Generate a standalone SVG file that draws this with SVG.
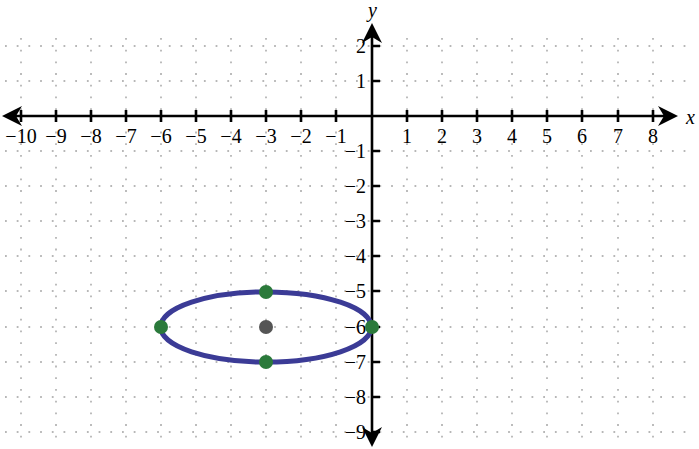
<svg xmlns="http://www.w3.org/2000/svg" width="699" height="449" viewBox="0 0 699 449">
<style>
.g{stroke:#a0a0a0;stroke-width:1.4;stroke-dasharray:1.8 9.9;fill:none}
.ax{stroke:#000;stroke-width:2.6;fill:none}
.tk{stroke:#000;stroke-width:2.6}
text{font-family:"Liberation Serif",serif;font-size:20px;fill:#000}
.xl{text-anchor:middle}
.yl{text-anchor:end}
.pt{fill:#2b7a3b}
</style>
<rect width="699" height="449" fill="#fff"/>
<g id="grid">
<path class="g" d="M21 38V446M56 38V446M91 38V446M126 38V446M161 38V446M196 38V446M231 38V446M266 38V446M301 38V446M336 38V446M407 38V446M442 38V446M477 38V446M512 38V446M547 38V446M582 38V446M618 38V446M653 38V446"/>
<path class="g" d="M5 46H690M5 81H690M5 151H690M5 186H690M5 221H690M5 256H690M5 291H690M5 327H690M5 362H690M5 397H690M5 432H690"/>
</g>
<g id="connectors">
<path class="ax" d="M8 116H670"/>
<path class="ax" d="M372 30V440"/>
<path d="M2 116L22 106L16 116L22 126Z"/>
<path d="M678 116L658 106L664 116L658 126Z"/>
<path d="M372 23L362 43L372 37L382 43Z"/>
<path d="M372 447L362 427L372 433L382 427Z"/>
<path class="tk" d="M21 110V122M56 110V122M91 110V122M126 110V122M161 110V122M196 110V122M231 110V122M266 110V122M301 110V122M336 110V122M407 110V122M442 110V122M477 110V122M512 110V122M547 110V122M582 110V122M618 110V122M653 110V122"/>
<path class="tk" d="M372 46H380M372 81H380M372 151H380M372 186H380M372 221H380M372 256H380M372 291H380M372 327H380M372 362H380M372 397H380M372 432H380"/>
</g>
<g id="xlabels">
<text class="xl" x="21" y="143">−10</text>
<text class="xl" x="56" y="143">−9</text>
<text class="xl" x="91" y="143">−8</text>
<text class="xl" x="126" y="143">−7</text>
<text class="xl" x="161" y="143">−6</text>
<text class="xl" x="196" y="143">−5</text>
<text class="xl" x="231" y="143">−4</text>
<text class="xl" x="266" y="143">−3</text>
<text class="xl" x="301" y="143">−2</text>
<text class="xl" x="336" y="143">−1</text>
<text class="xl" x="407" y="143">1</text>
<text class="xl" x="442" y="143">2</text>
<text class="xl" x="477" y="143">3</text>
<text class="xl" x="512" y="143">4</text>
<text class="xl" x="547" y="143">5</text>
<text class="xl" x="582" y="143">6</text>
<text class="xl" x="618" y="143">7</text>
<text class="xl" x="653" y="143">8</text>
</g>
<g id="ylabels">
<text class="yl" x="366" y="53">2</text>
<text class="yl" x="366" y="88">1</text>
<text class="yl" x="366" y="158">−1</text>
<text class="yl" x="366" y="193">−2</text>
<text class="yl" x="366" y="228">−3</text>
<text class="yl" x="366" y="263">−4</text>
<text class="yl" x="366" y="298">−5</text>
<text class="yl" x="366" y="334">−6</text>
<text class="yl" x="366" y="369">−7</text>
<text class="yl" x="366" y="404">−8</text>
<text class="yl" x="366" y="439">−9</text>
</g>
<text id="xname" x="686" y="124" font-style="italic">x</text>
<text id="yname" x="368" y="17" font-style="italic">y</text>
<g id="ellipse">
<ellipse cx="266" cy="327" rx="105.3" ry="35.1" fill="none" stroke="#3b3b96" stroke-width="5"/>
</g>
<g id="center"><circle cx="266" cy="327" r="7" fill="#555"/></g>
<g id="vertices">
<circle class="pt" cx="161" cy="327" r="7"/>
<circle class="pt" cx="372" cy="327" r="7"/>
<circle class="pt" cx="266" cy="292" r="7"/>
<circle class="pt" cx="266" cy="362" r="7"/>
</g>
</svg>
